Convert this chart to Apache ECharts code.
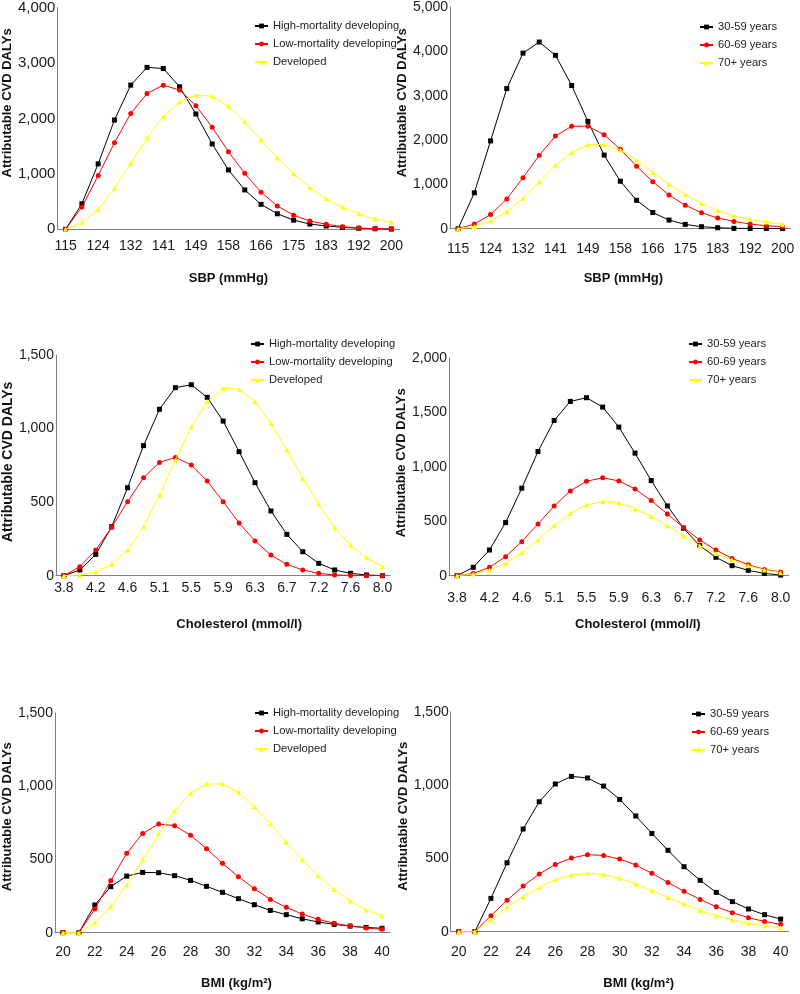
<!DOCTYPE html>
<html>
<head>
<meta charset="utf-8">
<script src="https://cdn.jsdelivr.net/npm/echarts@6/dist/echarts.min.js"></script>
<style>
html,body{margin:0;padding:0;background:#fff;}
#chart{width:800px;height:994px;}
</style>
</head>
<body>
<div id="chart"></div>
<script>
// ---------- categories (x values) ----------
const sbpCategories = ['115','119','124','128','132','136','141','145','149','153','158','162','166','170','175','179','183','187','192','196','200'];
const cholCategories = ['3.8','4.0','4.2','4.4','4.6','4.9','5.1','5.3','5.5','5.7','5.9','6.1','6.3','6.5','6.7','7.0','7.2','7.4','7.6','7.8','8.0'];
const bmiCategories = ['20','21','22','23','24','25','26','27','28','29','30','31','32','33','34','35','36','37','38','39','40'];

// ---------- series names ----------
const regionNames = ['High-mortality developing','Low-mortality developing','Developed'];
const ageNames = ['30-59 years','60-69 years','70+ years'];

// ---------- SBP ----------
const sbpHighMortality = [0,460,1180,1970,2600,2920,2900,2570,2080,1540,1070,710,450,280,165,95,60,35,18,10,5];
const sbpLowMortality  = [0,400,970,1560,2090,2450,2600,2510,2230,1840,1400,1010,670,420,255,150,90,48,24,12,6];
const sbpDeveloped     = [0,125,360,740,1190,1640,2030,2300,2420,2400,2220,1940,1610,1285,1000,750,550,400,280,185,125];
const sbpAge3059 = [0,810,1980,3160,3960,4210,3910,3230,2420,1660,1070,640,365,195,97,45,22,8,6,4,3];
const sbpAge6069 = [0,105,320,670,1150,1655,2090,2310,2310,2120,1790,1410,1060,760,530,360,240,165,105,67,45];
const sbpAge70   = [0,52,172,388,686,1060,1430,1720,1895,1900,1775,1550,1270,1000,770,567,410,290,210,150,97];

// ---------- Cholesterol ----------
const cholHighMortality = [0,39,145,333,598,884,1131,1278,1298,1212,1051,843,632,440,281,163,84,39,16,5,0];
const cholLowMortality  = [0,61,174,329,503,666,770,804,752,643,503,358,236,140,77,39,16,5,2,0,0];
const cholDeveloped     = [0,5,27,77,174,333,548,786,1013,1183,1273,1267,1183,1036,854,662,485,326,208,122,61];
const cholAge3059 = [0,77,236,488,804,1141,1426,1601,1635,1549,1365,1126,874,641,436,276,169,92,49,21,6];
const cholAge6069 = [0,21,77,175,313,475,641,779,868,899,871,797,690,567,442,328,236,159,101,58,34];
const cholAge70   = [0,15,52,113,212,328,460,574,650,681,669,616,543,460,368,276,205,144,92,52,28];

// ---------- BMI ----------
const bmiHighMortality = [0,0,189,314,386,411,409,389,357,316,275,232,191,152,123,95,73,57,45,36,30];
const bmiLowMortality  = [0,0,161,355,541,677,741,730,664,573,473,382,300,227,173,127,91,64,45,32,23];
const bmiDeveloped     = [0,0,68,177,325,496,673,832,950,1014,1014,957,859,743,616,496,386,295,216,155,114];
const bmiAge3059 = [0,0,227,470,700,886,1007,1059,1048,993,902,789,670,555,443,350,268,205,155,116,86];
const bmiAge6069 = [0,0,109,214,311,393,459,502,525,520,495,455,398,336,275,220,170,130,95,70,50];
const bmiAge70   = [0,0,80,166,239,302,355,386,398,389,364,325,280,234,189,145,109,80,57,39,25];

// ---------- axis scales / titles ----------
const yMax = [4000,5000,1500,2000,1500,1500];
const yInterval = [1000,1000,500,500,500,500];
const xTitles = ['SBP (mmHg)','SBP (mmHg)','Cholesterol (mmol/l)','Cholesterol (mmol/l)','BMI (kg/m\u00B2)','BMI (kg/m\u00B2)'];
const yTitle = 'Attributable CVD DALYs';

// ---------- panels ----------
const panels = [
  {cats: sbpCategories,  names: regionNames, data: [sbpHighMortality, sbpLowMortality, sbpDeveloped]},
  {cats: sbpCategories,  names: ageNames,    data: [sbpAge3059, sbpAge6069, sbpAge70]},
  {cats: cholCategories, names: regionNames, data: [cholHighMortality, cholLowMortality, cholDeveloped]},
  {cats: cholCategories, names: ageNames,    data: [cholAge3059, cholAge6069, cholAge70]},
  {cats: bmiCategories,  names: regionNames, data: [bmiHighMortality, bmiLowMortality, bmiDeveloped]},
  {cats: bmiCategories,  names: ageNames,    data: [bmiAge3059, bmiAge6069, bmiAge70]}
];

// layout (pixels)
const layout = [
  {grid:{left:53.3, top:5.3,  width:346.2, height:224},   xLabelMargin:10, xNameGap:43, xNamePad:0,  yNameGap:38, yNamePad:31, yNameSize:13, yLabelSize:15, legend:{left:249, top:14}},
  {grid:{left:450,  top:5.4,  width:340.7, height:223.3}, xLabelMargin:13, xNameGap:43, xNamePad:6,  yNameGap:37, yNamePad:30, yNameSize:13, yLabelSize:14, legend:{left:694, top:15}},
  {grid:{left:51.7, top:355,  width:338.7, height:220.7}, xLabelMargin:5,  xNameGap:42, xNamePad:32, yNameGap:37, yNamePad:7,  yNameSize:14, yLabelSize:14, legend:{left:245, top:332}},
  {grid:{left:449,  top:358,  width:339.7, height:217.7}, xLabelMargin:15, xNameGap:42, xNamePad:38, yNameGap:38, yNamePad:8,  yNameSize:13, yLabelSize:14, legend:{left:683, top:332}},
  {grid:{left:52.3, top:712.7,width:337.7, height:220},   xLabelMargin:12, xNameGap:44, xNamePad:28, yNameGap:37, yNamePad:12, yNameSize:13, yLabelSize:14, legend:{left:249, top:701}},
  {grid:{left:450.7,top:711.7,width:338,   height:220},   xLabelMargin:13, xNameGap:45, xNamePad:38, yNameGap:38, yNamePad:11, yNameSize:13, yLabelSize:14, legend:{left:686, top:702}}
];

const colors = ['#000000','#ff0000','#ffff00'];
const symbols = ['rect','circle','triangle'];
const symbolSizes = [5,5,5];

function hasFont(name){
  const c = document.createElement('canvas').getContext('2d');
  const t = 'High-mortality developing';
  c.font = '13px monospace';
  const w1 = c.measureText(t).width;
  c.font = "13px '" + name + "', monospace";
  const w2 = c.measureText(t).width;
  return Math.abs(w1 - w2) > 0.5;
}
const narrow = hasFont('Liberation Sans Narrow');
const legendFontFamily = narrow ? "'Liberation Sans Narrow', 'Liberation Sans', Arial, sans-serif" : "'Liberation Sans', Arial, sans-serif";
const legendFontSize = narrow ? 13 : 11.2;
const baseFont = "'Liberation Sans', Arial, Helvetica, sans-serif";

const fmt = v => String(v).replace(/\B(?=(\d{3})+(?!\d))/g, ',');

const option = {
  backgroundColor: '#ffffff',
  animation: false,
  grid: [], xAxis: [], yAxis: [], legend: [], series: []
};

panels.forEach((p, i) => {
  const L = layout[i];
  option.grid.push(Object.assign({containLabel:false}, L.grid));
  option.xAxis.push({
    type: 'category', gridIndex: i, data: p.cats, boundaryGap: true,
    axisLine: {show: true, lineStyle: {color: '#808080', width: 1}},
    axisTick: {show: false},
    axisLabel: {interval: 1, margin: L.xLabelMargin, color: '#1a1a1a', fontSize: 14, fontFamily: baseFont},
    splitLine: {show: false},
    name: xTitles[i], nameLocation: 'middle', nameGap: L.xNameGap,
    nameTextStyle: {fontWeight: 'bold', fontSize: 13, color: '#111', fontFamily: baseFont, padding: [0,0,0,L.xNamePad]}
  });
  option.yAxis.push({
    type: 'value', gridIndex: i, min: 0, max: yMax[i], interval: yInterval[i],
    axisLine: {show: true, lineStyle: {color: '#808080', width: 1}},
    axisTick: {show: false},
    splitLine: {show: false},
    axisLabel: {margin: 2, color: '#1a1a1a', fontSize: L.yLabelSize, fontFamily: baseFont, formatter: fmt},
    name: yTitle, nameLocation: 'middle', nameGap: L.yNameGap,
    nameTextStyle: {fontWeight: 'bold', fontSize: L.yNameSize, color: '#111', fontFamily: baseFont, padding: [0,0,0,L.yNamePad]}
  });
  option.legend.push({
    orient: 'vertical', left: L.legend.left, top: L.legend.top,
    itemWidth: 13, itemHeight: 6, itemGap: 4,
    textStyle: {fontSize: legendFontSize, lineHeight: 14, fontFamily: legendFontFamily, color: '#222'},
    data: p.names.slice(),
    selectedMode: false
  });
  p.data.forEach((arr, k) => {
    option.series.push({
      type: 'line', name: p.names[k], xAxisIndex: i, yAxisIndex: i,
      data: arr,
      symbol: symbols[k], symbolSize: symbolSizes[k], showSymbol: true,
      lineStyle: {color: colors[k], width: 1},
      itemStyle: {color: colors[k]},
      z: 2 + k
    });
  });
});

const chart = echarts.init(document.getElementById('chart'), null, {renderer: 'canvas'});
chart.setOption(option);
</script>
</body>
</html>
